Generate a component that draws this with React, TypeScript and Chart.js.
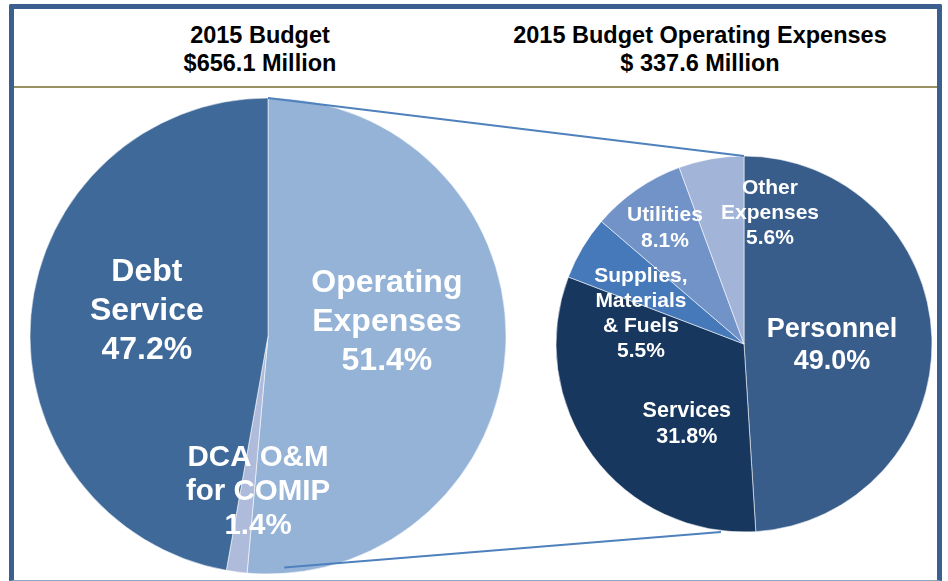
import React, { useEffect, useRef } from "react";
import { Chart, registerables } from "chart.js";

Chart.register(...registerables);

// ---------- data ----------
const budgetTitle = ["2015 Budget", "$656.1 Million"];
const operatingTitle = ["2015 Budget Operating Expenses", "$ 337.6 Million"];

const budgetCategories = ["Operating Expenses", "DCA O&M for COMIP", "Debt Service"];
const budgetShares = [51.4, 1.4, 47.2];
const budgetLabelNames = [["Operating", "Expenses"], ["DCA O&M", "for COMIP"], ["Debt", "Service"]];

const operatingCategories = ["Personnel", "Services", "Supplies, Materials & Fuels", "Utilities", "Other Expenses"];
const operatingShares = [49.0, 31.8, 5.5, 8.1, 5.6];
const operatingLabelNames = [["Personnel"], ["Services"], ["Supplies,", "Materials", "& Fuels"], ["Utilities"], ["Other", "Expenses"]];

// ---------- styles ----------
const budgetColors = ["#95B3D7", "#AFBBDA", "#3E6999"];
const operatingColors = ["#385D8A", "#17375E", "#4679B9", "#7193C7", "#A2B4D7"];

const FONT = '"Liberation Sans", Arial, Helvetica, sans-serif';

// label placement: polar offset from slice mid-angle (fraction of radius, angular shift in degrees)
const budgetLabelStyle = [
  { frac: 0.503, shift: -9.2, size: 32, lh: 39 },
  { frac: 0.657, shift: -3.9, size: 29.5, lh: 34 },
  { frac: 0.52, shift: 6.7, size: 32, lh: 39 },
];
const operatingLabelStyle = [
  { frac: 0.468, shift: 3.1, size: 27, lh: 32 },
  { frac: 0.522, shift: -18, size: 21.5, lh: 26 },
  { frac: 0.571, shift: -14.6, size: 21, lh: 25 },
  { frac: 0.746, shift: 0.4, size: 21, lh: 26 },
  { frac: 0.71, shift: 21.3, size: 21, lh: 25 },
];

const LEFT = { left: 29, top: 97, size: 478, radius: 238 };
const RIGHT = { left: 554, top: 154, size: 380, radius: 188 };

function pct(v: number) {
  return v.toFixed(1) + "%";
}

function makeLabelPlugin(names: string[][], values: number[], styles: any[]) {
  return {
    id: "sliceLabels",
    afterDatasetsDraw(chart: any) {
      const ctx = chart.ctx;
      const meta = chart.getDatasetMeta(0);
      meta.data.forEach((arc: any, i: number) => {
        const p = arc.getProps(["x", "y", "startAngle", "endAngle", "outerRadius"], true);
        const st = styles[i];
        const a = (p.startAngle + p.endAngle) / 2 + (st.shift * Math.PI) / 180;
        const cx = p.x + Math.cos(a) * p.outerRadius * st.frac;
        const cy = p.y + Math.sin(a) * p.outerRadius * st.frac;
        const lines = [...names[i], pct(values[i])];
        ctx.save();
        ctx.font = `bold ${st.size}px ${FONT}`;
        ctx.fillStyle = "#FFFFFF";
        ctx.textAlign = "center";
        ctx.textBaseline = "middle";
        lines.forEach((ln, k) => {
          ctx.fillText(ln, cx, cy + (k - (lines.length - 1) / 2) * st.lh);
        });
        ctx.restore();
      });
    },
  };
}

function pieConfig(labels: string[], data: number[], colors: string[], radius: number, plugin: any): any {
  return {
    type: "pie",
    data: {
      labels,
      datasets: [
        {
          data,
          backgroundColor: colors,
          borderColor: "rgba(255,255,255,0.55)",
          borderWidth: 1,
        },
      ],
    },
    options: {
      responsive: false,
      animation: false,
      radius,
      layout: { padding: 0 },
      plugins: { legend: { display: false }, tooltip: { enabled: false } },
    },
    plugins: [plugin],
  };
}

export default function App() {
  const leftRef = useRef<HTMLCanvasElement>(null);
  const rightRef = useRef<HTMLCanvasElement>(null);
  const overlayRef = useRef<HTMLCanvasElement>(null);

  useEffect(() => {
    document.body.style.margin = "0";
    const left = new Chart(
      leftRef.current!,
      pieConfig(budgetCategories, budgetShares, budgetColors, LEFT.radius,
        makeLabelPlugin(budgetLabelNames, budgetShares, budgetLabelStyle))
    );
    const right = new Chart(
      rightRef.current!,
      pieConfig(operatingCategories, operatingShares, operatingColors, RIGHT.radius,
        makeLabelPlugin(operatingLabelNames, operatingShares, operatingLabelStyle))
    );

    // connector lines between the two pies, from chart geometry
    const ov = overlayRef.current!;
    const octx = ov.getContext("2d")!;
    octx.clearRect(0, 0, ov.width, ov.height);
    const la: any = left.getDatasetMeta(0).data[0];
    const ra: any = right.getDatasetMeta(0).data[0];
    const pt = (arc: any, off: any, deg: number, frac: number) => {
      const a = ((deg - 90) * Math.PI) / 180;
      return [off.left + arc.x + Math.cos(a) * arc.outerRadius * frac, off.top + arc.y + Math.sin(a) * arc.outerRadius * frac];
    };
    octx.strokeStyle = "#4F81BD";
    octx.lineWidth = 2;
    const segs = [
      [pt(la, LEFT, 0, 1.0), pt(ra, RIGHT, 0, 1.0)],
      [pt(la, LEFT, 176, 0.975), pt(ra, RIGHT, 187, 1.007)],
    ];
    segs.forEach(([a, b]) => {
      octx.beginPath();
      octx.moveTo(a[0], a[1]);
      octx.lineTo(b[0], b[1]);
      octx.stroke();
    });

    return () => {
      left.destroy();
      right.destroy();
    };
  }, []);

  const titleStyle: React.CSSProperties = {
    position: "absolute",
    top: 21,
    textAlign: "center",
    fontFamily: FONT,
    fontWeight: "bold",
    fontSize: 23.5,
    lineHeight: "28px",
    color: "#000",
    whiteSpace: "nowrap",
  };

  return (
    <div style={{ position: "relative", width: 948, height: 581, background: "#fff", overflow: "hidden" }}>
      <div
        style={{
          position: "absolute",
          left: 9,
          top: 4,
          width: 933,
          height: 577,
          boxSizing: "border-box",
          borderLeft: "5px solid #3B5F8E",
          borderRight: "5px solid #3B5F8E",
          borderTop: "5px solid #3B5F8E",
          borderBottom: "1px solid #8FA6BF",
          borderTopLeftRadius: 2,
          borderTopRightRadius: 2,
        }}
      />
      <div style={{ position: "absolute", left: 14, top: 86, width: 923, height: 2, background: "#9A9163" }} />
      <div style={{ ...titleStyle, left: 110, width: 300 }}>
        {budgetTitle[0]}
        <br />
        {budgetTitle[1]}
      </div>
      <div style={{ ...titleStyle, left: 500, width: 400 }}>
        {operatingTitle[0]}
        <br />
        {operatingTitle[1]}
      </div>
      <canvas
        ref={leftRef}
        width={LEFT.size}
        height={LEFT.size}
        style={{ position: "absolute", left: LEFT.left, top: LEFT.top, width: LEFT.size, height: LEFT.size }}
      />
      <canvas
        ref={rightRef}
        width={RIGHT.size}
        height={RIGHT.size}
        style={{ position: "absolute", left: RIGHT.left, top: RIGHT.top, width: RIGHT.size, height: RIGHT.size }}
      />
      <canvas
        ref={overlayRef}
        width={948}
        height={581}
        style={{ position: "absolute", left: 0, top: 0, width: 948, height: 581, pointerEvents: "none" }}
      />
    </div>
  );
}
